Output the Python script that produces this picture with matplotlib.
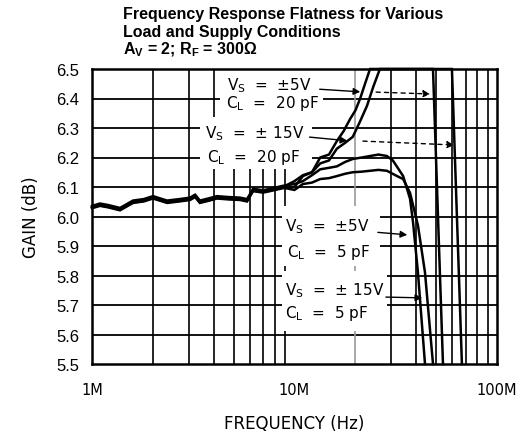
import numpy as np
import matplotlib
matplotlib.use("Agg")
import matplotlib.pyplot as plt
from matplotlib.patches import Rectangle

plt.rcParams['mathtext.fontset'] = 'custom'
plt.rcParams['mathtext.rm'] = 'DejaVu Sans'
plt.rcParams['mathtext.bf'] = 'Liberation Sans:bold'

# frequency in MHz, gain in dB
f_low = [1.0, 1.095, 1.2, 1.375, 1.594, 1.8, 2.0, 2.35, 2.7, 3.05, 3.23, 3.41,
         3.8, 4.14, 4.7, 5.38, 5.83, 6.24, 7.0, 7.57, 8.77]
g_low = [6.032, 6.04, 6.035, 6.025, 6.05, 6.055, 6.065, 6.05, 6.055, 6.06, 6.07, 6.05,
         6.058, 6.065, 6.062, 6.06, 6.055, 6.09, 6.085, 6.09, 6.10]

f_5v_20p = f_low + [10.0, 11.0, 12.2, 13.4, 14.8, 16.2, 17.5, 18.8, 20.0, 21.1, 22.3, 23.6, 48.3, 54.1]
g_5v_20p = g_low + [6.12, 6.14, 6.15, 6.20, 6.21, 6.256, 6.29, 6.33, 6.36, 6.40, 6.45, 6.5, 6.5, 5.5]

f_15v_20p = f_low + [10.0, 11.0, 12.2, 13.4, 14.8, 16.2, 17.8, 19.4, 21.0, 22.8, 24.5, 26.4, 59.9, 67.1]
g_15v_20p = [g - 0.004 for g in g_low] + [6.10, 6.137, 6.15, 6.18, 6.19, 6.23, 6.25, 6.27, 6.32, 6.375, 6.44, 6.5, 6.5, 5.5]

f_5v_5p = f_low + [10.0, 11.0, 12.2, 13.4, 14.8, 16.2, 17.8, 19.4, 21.5, 23.6, 26.0, 28.6, 30.6,
                   34.4, 37.2, 38.5, 40.7, 44.1]
g_5v_5p = [g + 0.004 for g in g_low] + [6.11, 6.12, 6.14, 6.16, 6.165, 6.17, 6.185, 6.195, 6.2, 6.205, 6.21, 6.205, 6.19,
                                         6.137, 6.06, 5.98, 5.81, 5.5]

f_15v_5p = f_low + [10.0, 11.0, 12.2, 13.4, 14.8, 16.2, 17.8, 19.4, 21.5, 23.6, 26.0, 28.6, 32.1,
                    34.4, 37.2, 40.7, 44.1, 48.3]
g_15v_5p = [g - 0.002 for g in g_low] + [6.09, 6.11, 6.115, 6.127, 6.13, 6.137, 6.145, 6.15, 6.152, 6.155, 6.158, 6.155, 6.137,
                                          6.127, 6.08, 5.97, 5.81, 5.5]

x_ticks = [1, 10, 100]
x_tick_labels = ['1M', '10M', '100M']
y_ticks = [5.5, 5.6, 5.7, 5.8, 5.9, 6.0, 6.1, 6.2, 6.3, 6.4, 6.5]

fig = plt.figure(figsize=(5.21, 4.39), dpi=100)
ax = fig.add_axes([92 / 521, 74 / 439, 405 / 521, 295 / 439])
ax.set_xscale('log')
ax.set_xlim(1, 100)
ax.set_ylim(5.5, 6.5)

# grid
for y in y_ticks[1:-1]:
    ax.axhline(y, color='black', lw=1.3, zorder=1)
for dec in [1, 10]:
    for m in range(2, 10):
        c = '#999999' if dec * m == 20 else 'black'
        ax.axvline(dec * m, color=c, lw=1.2, zorder=1)

# white label boxes
for (x0, x1, y0, y1) in [(4.29, 13.8, 6.337, 6.5), (3.41, 12.2, 6.161, 6.337),
                         (8.67, 26.4, 5.832, 6.036), (8.67, 28.6, 5.612, 5.815)]:
    ax.add_patch(Rectangle((x0, y0), x1 - x0, y1 - y0, facecolor='white', edgecolor='none', zorder=2))

for fx, gy in [(f_5v_20p, g_5v_20p), (f_15v_20p, g_15v_20p), (f_5v_5p, g_5v_5p), (f_15v_5p, g_15v_5p)]:
    ax.plot(fx, gy, color='black', lw=1.8, zorder=3, clip_on=False, solid_joinstyle='miter')

# labels
lab_kw = dict(fontsize=11, family='DejaVu Sans', va='center', ha='left', zorder=4)
ax.text(4.64, 6.447, r'V$_{\mathrm{S}}$  =  ±5V', **lab_kw)
ax.text(4.6, 6.385, r'C$_{\mathrm{L}}$  =  20 pF', **lab_kw)
ax.text(3.61, 6.284, r'V$_{\mathrm{S}}$  =  ± 15V', **lab_kw)
ax.text(3.7, 6.203, r'C$_{\mathrm{L}}$  =  20 pF', **lab_kw)
ax.text(8.98, 5.969, r'V$_{\mathrm{S}}$  =  ±5V', **lab_kw)
ax.text(9.2, 5.881, r'C$_{\mathrm{L}}$  =  5 pF', **lab_kw)
ax.text(8.98, 5.752, r'V$_{\mathrm{S}}$  =  ± 15V', **lab_kw)
ax.text(8.98, 5.674, r'C$_{\mathrm{L}}$  =  5 pF', **lab_kw)

# arrows
solid = dict(arrowstyle='-|>', color='black', lw=1.0, mutation_scale=10)
dashed = dict(arrowstyle='-|>', color='black', lw=1.0, ls=(0, (3, 3)), mutation_scale=10)
ax.annotate('', xy=(21.8, 6.422), xytext=(12.9, 6.432), arrowprops=solid, zorder=5)
ax.annotate('', xy=(48.3, 6.415), xytext=(24.5, 6.422), arrowprops=dashed, zorder=5)
ax.annotate('', xy=(18.8, 6.256), xytext=(11.5, 6.27), arrowprops=solid, zorder=5)
ax.annotate('', xy=(63.4, 6.242), xytext=(21.1, 6.256), arrowprops=dashed, zorder=5)
ax.annotate('', xy=(37.2, 5.937), xytext=(25.0, 5.947), arrowprops=solid, zorder=5)
ax.annotate('', xy=(44.1, 5.724), xytext=(27.4, 5.727), arrowprops=solid, zorder=5)

ax.set_xticks(x_ticks)
ax.set_xticklabels(x_tick_labels, family='DejaVu Sans', fontsize=10.5)
ax.minorticks_off()
ax.set_yticks(y_ticks)
ax.set_yticklabels(['%.1f' % v for v in y_ticks], family='Liberation Sans', fontsize=12)
ax.tick_params(axis='both', length=0)
ax.tick_params(axis='x', pad=13)
ax.tick_params(axis='y', pad=9)
for s in ax.spines.values():
    s.set_linewidth(1.8)
    s.set_zorder(6)

ax.set_xlabel('FREQUENCY (Hz)', family='DejaVu Sans', fontsize=12, labelpad=12)
ax.set_ylabel('GAIN (dB)', family='DejaVu Sans', fontsize=12, labelpad=12)

title_kw = dict(family='Liberation Sans', fontweight='bold', fontsize=11.5, ha='left', va='center')
fig.text(123 / 521, 1 - 14 / 439, 'Frequency Response Flatness for Various', **title_kw)
fig.text(123 / 521, 1 - 32 / 439, 'Load and Supply Conditions', **title_kw)
fig.text(123 / 521, 1 - 50 / 439, r'A$_{\mathbf{V}}$ = 2; R$_{\mathbf{F}}$ = 300Ω', **title_kw)

fig.savefig('out.png', dpi=100)
